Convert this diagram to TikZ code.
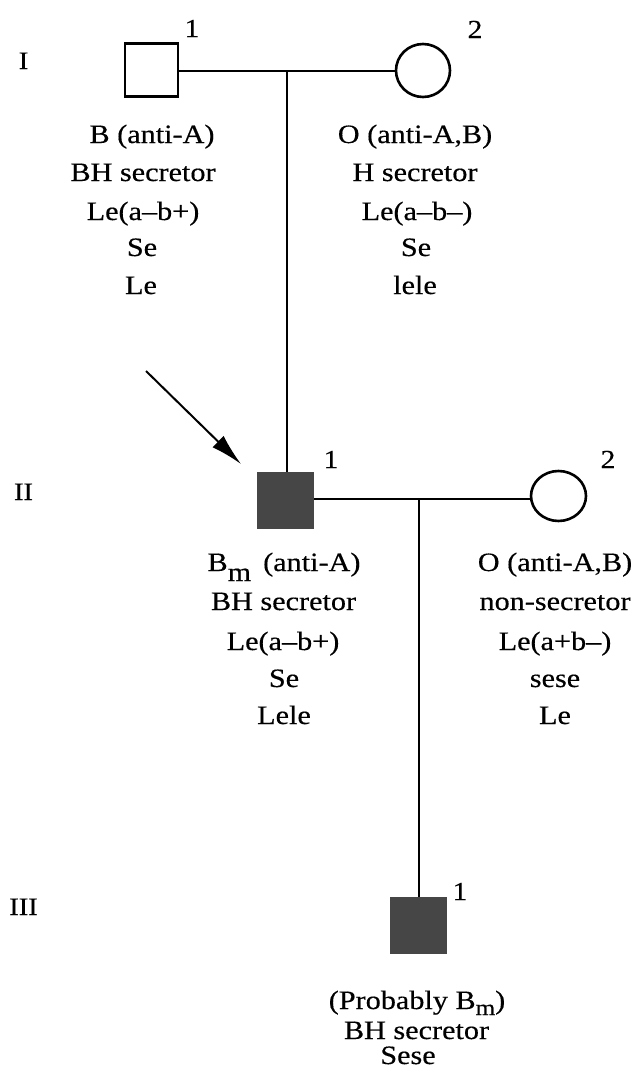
\documentclass[tikz,border=0pt]{standalone}
\usepackage{fontspec}
\setmainfont{Liberation Serif}[FakeStretch=1.14,FakeBold=0.4]
\usetikzlibrary{arrows.meta,shapes.geometric}
\definecolor{aff}{RGB}{70,70,70}
\begin{document}
\begin{tikzpicture}[x=1pt,y=-1pt,
  male/.style={draw=black,line width=2.2pt,minimum width=53pt,minimum height=53pt,inner sep=0},
  affected/.style={draw=aff,fill=aff,line width=0.8pt,minimum width=56pt,minimum height=56pt,inner sep=0},
  female/.style={ellipse,draw=black,line width=2.6pt,inner sep=0},
  link/.style={line width=1.5pt},
  info/.style={anchor=base,inner sep=0,font=\fontsize{26.5}{26.5}\selectfont},
  num/.style={anchor=base,inner sep=0,font=\fontsize{26}{26}\selectfont},
  gen/.style={anchor=base,inner sep=0,font=\fontsize{25}{25}\selectfont},
  proband/.style={line width=2pt,-{Latex[length=32pt,width=16pt]}}]
\useasboundingbox (0,0) rectangle (642,1076);

% generation labels
\node[gen] (gI) at (23.5,69) {I};
\node[gen] (gII) at (23.5,500) {II};
\node[gen] (gIII) at (23.5,915) {III};

% generation I
\node[male] (i1) at (151.5,70) {};
\node[female,minimum width=54pt,minimum height=53pt] (i2) at (423,70.5) {};
\node[num] (n-i1) at (192,37) {1};
\node[num] (n-i2) at (475,38) {2};
\coordinate (m1) at (287,71);
\draw[link] (i1.east |- m1) -- (i2.west |- m1);

% generation II
\node[affected] (ii1) at (285.5,500) {};
\node[female,minimum width=55pt,minimum height=50pt] (ii2) at (558.5,496) {};
\node[num] (n-ii1) at (331,468) {1};
\node[num] (n-ii2) at (608,468) {2};
\coordinate (m2) at (419,499);
\draw[link] (ii1.east |- m2) -- (ii2.west |- m2);
\draw[link] (m1) -- (m1 |- ii1.north);

% generation III
\node[affected] (iii1) at (418.5,925.5) {};
\node[num] (n-iii1) at (460,900) {1};
\draw[link] (m2) -- (m2 |- iii1.north);

% proband arrow
\coordinate (arrs) at (146,371);
\coordinate (arre) at (241,464);
\draw[proband] (arrs) -- (arre);

% texts generation I
\node[info] (t-i1-1) at (152,143) {B (anti-A)};
\node[info] (t-i1-2) at (143,181) {BH secretor};
\node[info] (t-i1-3) at (143,220) {Le(a\textendash b+)};
\node[info] (t-i1-4) at (142,256) {Se};
\node[info] (t-i1-5) at (141,294) {Le};

\node[info] (t-i2-1) at (415,143) {O (anti-A,B)};
\node[info] (t-i2-2) at (415,181) {H secretor};
\node[info] (t-i2-3) at (417,220) {Le(a\textendash b\textendash)};
\node[info] (t-i2-4) at (416,256) {Se};
\node[info] (t-i2-5) at (415,294) {lele};

% texts generation II
\node[info] (t-ii1-1) at (284,571) {B\raisebox{-10pt}{m}\, (anti-A)};
\node[info] (t-ii1-2) at (283.5,610) {BH secretor};
\node[info] (t-ii1-3) at (283,650) {Le(a\textendash b+)};
\node[info] (t-ii1-4) at (284,687) {Se};
\node[info] (t-ii1-5) at (284,724) {Lele};

\node[info] (t-ii2-1) at (555,571) {O (anti-A,B)};
\node[info] (t-ii2-2) at (555,610) {non-secretor};
\node[info] (t-ii2-3) at (555,650) {Le(a+b\textendash)};
\node[info] (t-ii2-4) at (555,687) {sese};
\node[info] (t-ii2-5) at (555,724) {Le};

% texts generation III
\node[info] (t-iii1-1) at (417,1009) {(Probably B\raisebox{-6pt}{\fontsize{22}{22}\selectfont m})};
\node[info] (t-iii1-2) at (416.5,1039) {BH secretor};
\node[info] (t-iii1-3) at (408,1064) {Sese};
\end{tikzpicture}
\end{document}
